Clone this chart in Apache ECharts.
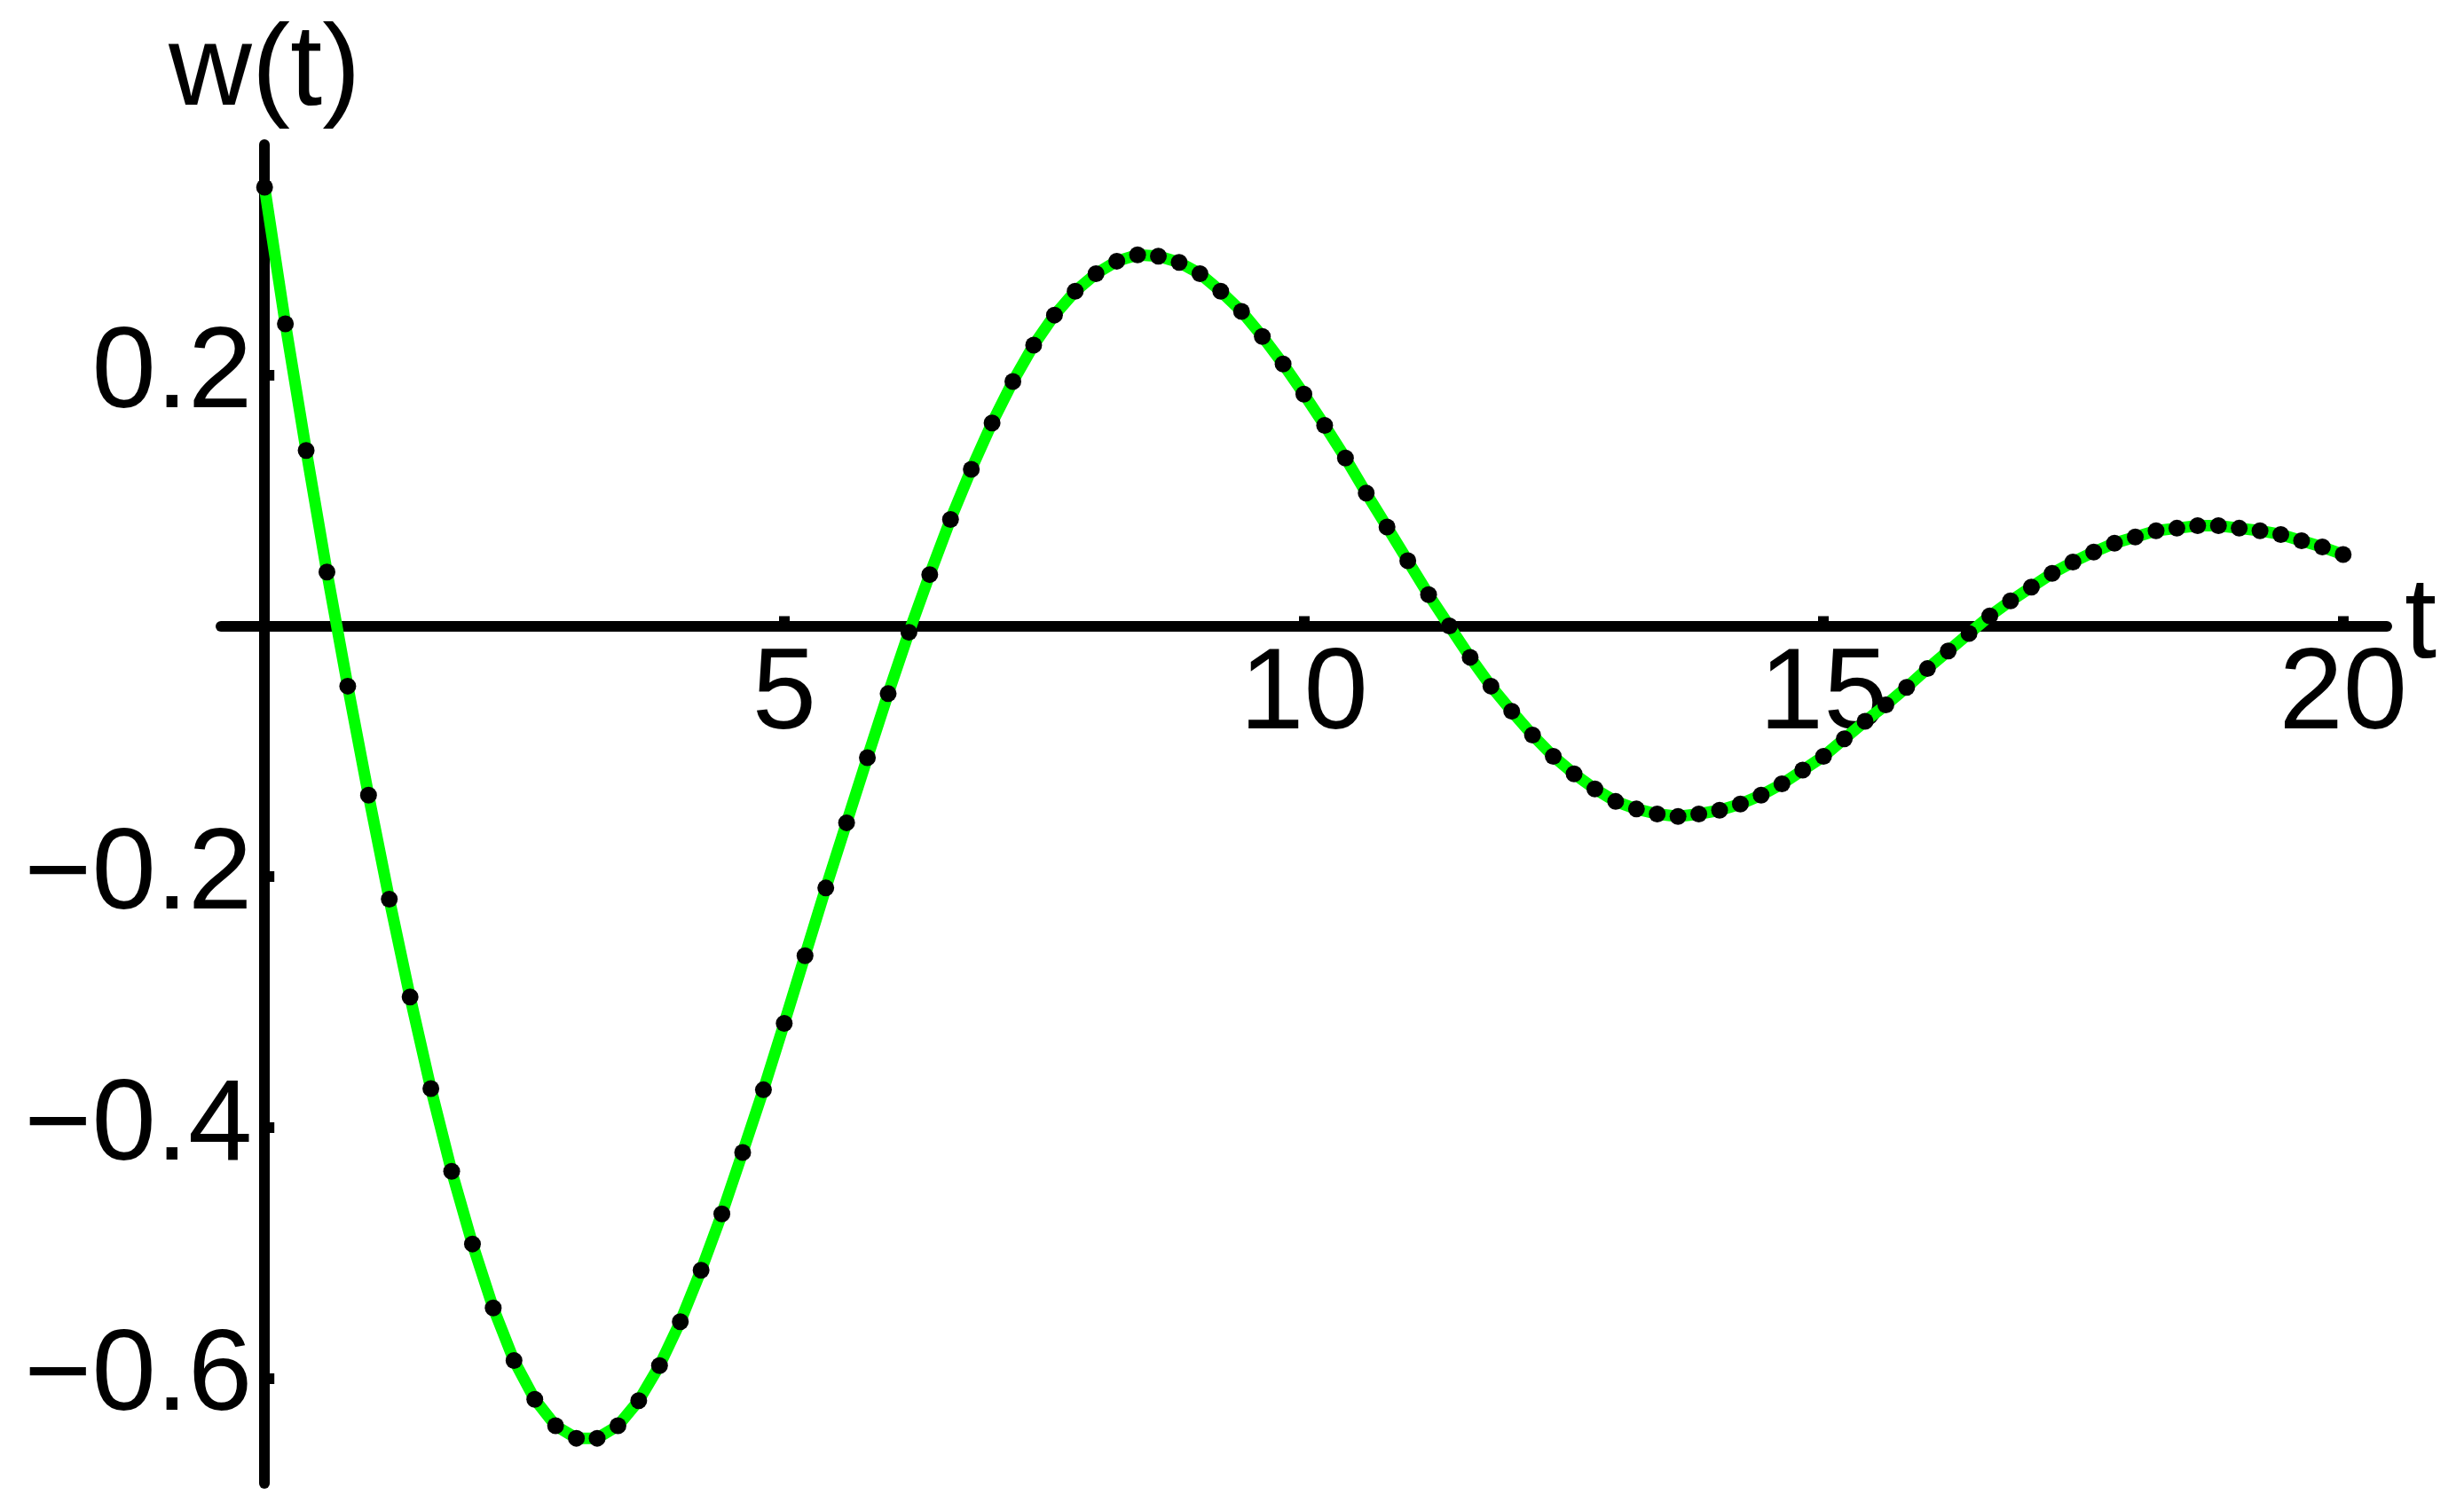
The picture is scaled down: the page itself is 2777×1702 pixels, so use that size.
<!DOCTYPE html>
<html>
<head>
<meta charset="utf-8">
<title>w(t)</title>
<script src="https://cdn.jsdelivr.net/npm/echarts@6/dist/echarts.min.js"></script>
<style>
  html, body { margin: 0; padding: 0; background: #fff; }
  #chart { width: 2777px; height: 1702px; }
</style>
</head>
<body>
<div id="chart"></div>
<script>
/* ---------- data ---------- */
const tValues = [
  0, 0.2, 0.4, 0.6, 0.8, 1, 1.2, 1.4, 1.6, 1.8,
  2, 2.2, 2.4, 2.6, 2.8, 3, 3.2, 3.4, 3.6, 3.8,
  4, 4.2, 4.4, 4.6, 4.8, 5, 5.2, 5.4, 5.6, 5.8,
  6, 6.2, 6.4, 6.6, 6.8, 7, 7.2, 7.4, 7.6, 7.8,
  8, 8.2, 8.4, 8.6, 8.8, 9, 9.2, 9.4, 9.6, 9.8,
  10, 10.2, 10.4, 10.6, 10.8, 11, 11.2, 11.4, 11.6, 11.8,
  12, 12.2, 12.4, 12.6, 12.8, 13, 13.2, 13.4, 13.6, 13.8,
  14, 14.2, 14.4, 14.6, 14.8, 15, 15.2, 15.4, 15.6, 15.8,
  16, 16.2, 16.4, 16.6, 16.8, 17, 17.2, 17.4, 17.6, 17.8,
  18, 18.2, 18.4, 18.6, 18.8, 19, 19.2, 19.4, 19.6, 19.8,
  20
];
const wValues = [
  0.350, 0.241, 0.140, 0.043, -0.048, -0.135, -0.218, -0.296, -0.369, -0.435,
  -0.493, -0.544, -0.586, -0.617, -0.638, -0.648, -0.648, -0.638, -0.618, -0.590,
  -0.555, -0.514, -0.469, -0.420, -0.370, -0.317, -0.263, -0.209, -0.157, -0.105,
  -0.054, -0.005, 0.041, 0.085, 0.125, 0.162, 0.195, 0.224, 0.248, 0.267,
  0.281, 0.291, 0.296, 0.295, 0.290, 0.281, 0.267, 0.251, 0.231, 0.209,
  0.185, 0.160, 0.134, 0.106, 0.079, 0.052, 0.025, 0.000, -0.025, -0.048,
  -0.068, -0.087, -0.104, -0.118, -0.130, -0.140, -0.146, -0.150, -0.152, -0.150,
  -0.147, -0.142, -0.135, -0.126, -0.115, -0.104, -0.090, -0.076, -0.063, -0.049,
  -0.034, -0.020, -0.006, 0.008, 0.020, 0.031, 0.042, 0.051, 0.059, 0.066,
  0.071, 0.076, 0.078, 0.080, 0.080, 0.078, 0.076, 0.073, 0.068, 0.063,
  0.057
];
const xTicks = [5, 10, 15, 20];
const yTicks = [-0.6, -0.4, -0.2, 0.2];

const points = tValues.map((t, i) => [t, wValues[i]]);

const FONT = '"Liberation Sans", Arial, sans-serif';
const axisText = { color: '#000', fontFamily: FONT, fontSize: 130 };
const X_RANGE = [-0.42, 20.42];
const Y_RANGE = [-0.684, 0.384];

const chart = echarts.init(document.getElementById('chart'));

// axis 0: the lines crossing at the origin (with ticks and names)
// axis 1: label-only copies, shifted onto the zero lines via offset
function buildOption(xOffset, yOffset) {
  return {
    animation: false,
    backgroundColor: '#fff',
    grid: { left: 249, right: 87, top: 163, bottom: 30, containLabel: false, outerBoundsMode: 'none' },
    xAxis: [
      {
        type: 'value',
        min: X_RANGE[0],
        max: X_RANGE[1],
        name: 't',
        nameLocation: 'end',
        nameGap: 20,
        nameTextStyle: { ...axisText, verticalAlign: 'middle' },
        axisLine: { onZero: true, lineStyle: { color: '#000', width: 12 } },
        axisTick: { show: true, inside: true, length: 11, customValues: xTicks, lineStyle: { color: '#000', width: 12 } },
        axisLabel: { show: false },
        splitLine: { show: false },
      },
      {
        type: 'value',
        position: 'bottom',
        offset: xOffset,
        min: X_RANGE[0],
        max: X_RANGE[1],
        axisLine: { show: false, onZero: false },
        axisTick: { show: false },
        axisLabel: { ...axisText, margin: 15, customValues: xTicks, formatter: (v) => String(v) },
        splitLine: { show: false },
      },
    ],
    yAxis: [
      {
        type: 'value',
        min: Y_RANGE[0],
        max: Y_RANGE[1],
        name: 'w(t)',
        nameLocation: 'end',
        nameGap: 16,
        nameTextStyle: { ...axisText, align: 'center' },
        axisLine: { onZero: true, lineStyle: { color: '#000', width: 12 } },
        axisTick: { show: true, inside: true, length: 11, customValues: yTicks, lineStyle: { color: '#000', width: 12 } },
        axisLabel: { show: false },
        splitLine: { show: false },
      },
      {
        type: 'value',
        position: 'left',
        offset: yOffset,
        min: Y_RANGE[0],
        max: Y_RANGE[1],
        axisLine: { show: false, onZero: false },
        axisTick: { show: false },
        axisLabel: {
          ...axisText,
          margin: 14,
          customValues: yTicks,
          formatter: (v) => (v < 0 ? '\u2212' + Math.abs(v).toFixed(1) : v.toFixed(1)),
        },
        splitLine: { show: false },
      },
    ],
    series: [
      {
        type: 'line',
        data: points,
        showSymbol: false,
        lineStyle: { color: '#00ff00', width: 13 },
        z: 2,
      },
      {
        type: 'scatter',
        data: points,
        symbol: 'circle',
        symbolSize: 19,
        itemStyle: { color: '#000', opacity: 1 },
        z: 3,
      },
    ],
  };
}

chart.setOption(buildOption(0, 0));
const rect = chart.getModel().getComponent('grid', 0).coordinateSystem.getRect();
const origin = chart.convertToPixel({ gridIndex: 0 }, [0, 0]);
const xOffset = -(rect.y + rect.height - origin[1]);
const yOffset = -(origin[0] - rect.x);
chart.setOption(buildOption(xOffset, yOffset));
</script>
</body>
</html>
